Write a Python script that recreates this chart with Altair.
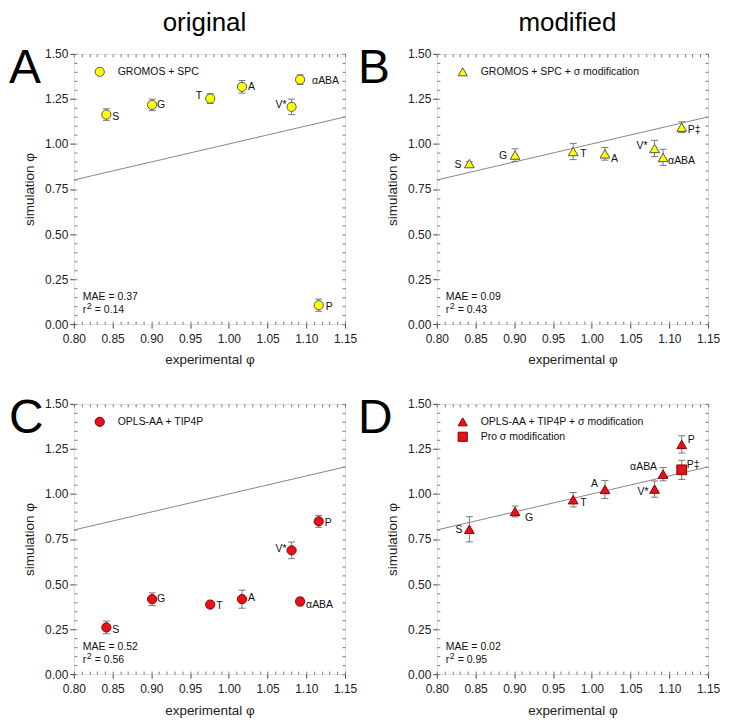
import altair as alt
import pandas as pd

FONT = "Liberation Sans"

# ---------------- data ----------------
residues = ["S", "G", "T", "A", "V*", "αABA", "P"]
exp_phi = [0.842, 0.901, 0.976, 1.017, 1.081, 1.092, 1.116]

sim_A = [1.163, 1.217, 1.252, 1.317, 1.206, 1.357, 0.105]
err_A = [0.032, 0.032, 0.027, 0.035, 0.043, 0.027, 0.034]
sim_B = [0.891, 0.938, 0.958, 0.945, 0.975, 0.925, 1.093]
err_B = [0.010, 0.035, 0.045, 0.035, 0.045, 0.045, 0.030]
sim_C = [0.259, 0.416, 0.386, 0.416, 0.687, 0.403, 0.848]
err_C = [0.035, 0.035, 0.010, 0.050, 0.046, 0.024, 0.033]
sim_D = [0.804, 0.903, 0.968, 1.025, 1.027, 1.110, 1.275]
err_D = [0.070, 0.030, 0.040, 0.050, 0.045, 0.037, 0.048]

labels_A = ["S", "G", "T", "A", "V*", "αABA", "P"]
labels_B = ["S", "G", "T", "A", "V*", "αABA", "P‡"]
labels_C = ["S", "G", "T", "A", "V*", "αABA", "P"]
labels_D = ["S", "G", "T", "A", "V*", "αABA", "P"]

pro_exp = [1.116]
pro_sim = [1.134]
pro_err = [0.053]
pro_label = ["P‡"]

identity = [0.80, 1.15]
x_major = [0.80, 0.85, 0.90, 0.95, 1.00, 1.05, 1.10, 1.15]
y_major = [0.00, 0.25, 0.50, 0.75, 1.00, 1.25, 1.50]
x_minor = [round(0.80 + 0.01 * i, 2) for i in range(36)]
y_minor = [round(0.05 * i, 2) for i in range(31)]

mae_vals = [0.37, 0.09, 0.52, 0.02]
r2_vals = [0.14, 0.43, 0.56, 0.95]
legend_A = ["GROMOS + SPC"]
legend_B = ["GROMOS + SPC + σ modification"]
legend_C = ["OPLS-AA + TIP4P"]
legend_D = ["OPLS-AA + TIP4P + σ modification", "Pro σ modification"]
panel_letters = ["A", "B", "C", "D"]
column_titles = ["original", "modified"]

# ---------------- styles ----------------
W, H = 272, 271
YELLOW, YSTROKE = "#ffff00", "#555555"
RED, RSTROKE = "#e8101a", "#8a0000"

style_A = dict(align=["left", "left", "right", "left", "right", "left", "left"],
               dx=[6, 5, -8, 6, -5, 12, 7], dy=[2, 0, -3, 0, -2, 1, 2])
style_B = dict(align=["right", "right", "left", "left", "right", "left", "left"],
               dx=[-8, -8, 7, 6, -7, 5, 6], dy=[1, 1, 2, 5, -2, 4, 3])
style_C = dict(align=["left", "left", "left", "left", "right", "left", "left"],
               dx=[6, 5, 6, 6, -5, 6, 6], dy=[3, 0, 1, -1, -1, 3, 2])
style_D = dict(align=["right", "left", "left", "right", "right", "right", "left"],
               dx=[-7, 10, 7, -7, -6, -6, 6], dy=[1, 7, 3, -5, 3, -7, -4])

xs = alt.Scale(domain=[0.80, 1.15], nice=False, zero=False)
ys = alt.Scale(domain=[0.0, 1.5], nice=False, zero=False)

x_main = alt.Axis(values=x_major, format=".2f", title="experimental φ", orient="bottom",
                  tickSize=4, tickColor="#444", domain=False, grid=False, labelFlush=False,
                  labelFont=FONT, labelFontSize=12, labelColor="#222", labelPadding=5,
                  titleFont=FONT, titleFontSize=13.5, titleFontWeight="normal",
                  titleColor="#222", titlePadding=9)
y_main = alt.Axis(values=y_major, format=".2f", title="simulation φ", orient="left",
                  tickSize=4, tickColor="#444", domain=False, grid=False, labelFlush=False,
                  labelFont=FONT, labelFontSize=12, labelColor="#222", labelPadding=2,
                  titleFont=FONT, titleFontSize=13.5, titleFontWeight="normal",
                  titleColor="#222", titlePadding=8)


def inner_axis(orient, offset, values):
    return alt.Axis(orient=orient, offset=offset, values=values, labels=False,
                    domain=False, grid=False, ticks=True, tickSize=3,
                    tickColor="#555", tickWidth=0.8, title=None)


def panel(sim, err, labels, style, shape, fill, stroke, legend, mae, r2, letter,
          letter_x, coltitle=None, pro=None):
    df = pd.DataFrame({
        "idx": list(range(len(sim))),
        "exp": exp_phi,
        "sim": sim,
        "lo": [s - e for s, e in zip(sim, err)],
        "hi": [s + e for s, e in zip(sim, err)],
        "lab": labels,
    })
    base = alt.Chart(df)
    line = alt.Chart(pd.DataFrame({"exp": identity, "sim": identity})).mark_line(
        color="#888888", strokeWidth=1).encode(
        x=alt.X("exp:Q", scale=xs, axis=x_main),
        y=alt.Y("sim:Q", scale=ys, axis=y_main))
    rules = base.mark_rule(color="#777777", strokeWidth=1).encode(
        x=alt.X("exp:Q", scale=xs, axis=inner_axis("top", -H, x_minor)),
        y=alt.Y("lo:Q", scale=ys, axis=inner_axis("right", -W, y_minor)),
        y2="hi:Q")
    cap_lo = base.mark_tick(orient="horizontal", size=7, thickness=1, color="#777777",
                            opacity=1).encode(
        x=alt.X("exp:Q", scale=xs, axis=inner_axis("bottom", -H, x_minor)),
        y=alt.Y("lo:Q", scale=ys, axis=inner_axis("left", -W, y_minor)))
    cap_hi = base.mark_tick(orient="horizontal", size=7, thickness=1, color="#777777",
                            opacity=1).encode(
        x=alt.X("exp:Q", scale=xs, axis=None),
        y=alt.Y("hi:Q", scale=ys, axis=None))
    size = 85 if shape == "circle" else 95
    pts = base.mark_point(shape=shape, filled=True, fill=fill, stroke=stroke,
                          strokeWidth=1, size=size, opacity=1).encode(
        x=alt.X("exp:Q", scale=xs, axis=None),
        y=alt.Y("sim:Q", scale=ys, axis=None))
    layers = [line, rules, cap_lo, cap_hi]

    if pro is not None:
        pdf = pd.DataFrame({"exp": pro[0], "sim": pro[1],
                            "lo": [s - e for s, e in zip(pro[1], pro[2])],
                            "hi": [s + e for s, e in zip(pro[1], pro[2])],
                            "lab": pro[3]})
        pb = alt.Chart(pdf)
        layers += [
            pb.mark_rule(color="#777777", strokeWidth=1).encode(
                x=alt.X("exp:Q", scale=xs, axis=None),
                y=alt.Y("lo:Q", scale=ys, axis=None), y2="hi:Q"),
            pb.mark_tick(orient="horizontal", size=7, thickness=1, color="#777777",
                         opacity=1).encode(
                x=alt.X("exp:Q", scale=xs, axis=None),
                y=alt.Y("lo:Q", scale=ys, axis=None)),
            pb.mark_tick(orient="horizontal", size=7, thickness=1, color="#777777",
                         opacity=1).encode(
                x=alt.X("exp:Q", scale=xs, axis=None),
                y=alt.Y("hi:Q", scale=ys, axis=None)),
            pb.mark_point(shape="square", filled=True, fill=fill, stroke=stroke,
                          strokeWidth=1, size=95, opacity=1).encode(
                x=alt.X("exp:Q", scale=xs, axis=None),
                y=alt.Y("sim:Q", scale=ys, axis=None)),
            pb.mark_text(align="left", dx=5, dy=-5, font=FONT, fontSize=10.5,
                         color="#111").encode(
                x=alt.X("exp:Q", scale=xs, axis=None),
                y=alt.Y("sim:Q", scale=ys, axis=None), text="lab:N"),
        ]
    layers.append(pts)

    for i in range(len(sim)):
        layers.append(
            base.transform_filter(alt.FieldEqualPredicate(field="idx", equal=i))
            .mark_text(align=style["align"][i], dx=style["dx"][i], dy=style["dy"][i],
                       baseline="middle", font=FONT, fontSize=10.5, color="#111")
            .encode(x=alt.X("exp:Q", scale=xs, axis=None),
                    y=alt.Y("sim:Q", scale=ys, axis=None), text="lab:N"))

    # legend
    leg_shapes = [shape, "square"]
    for j, txt in enumerate(legend):
        yy = 18 + 15 * j
        one = alt.Chart(pd.DataFrame({"t": [txt]}))
        layers.append(one.mark_point(shape=leg_shapes[j], filled=True, fill=fill,
                                     stroke=stroke, strokeWidth=1,
                                     size=(85 if leg_shapes[j] == "circle" else 85),
                                     opacity=1)
                      .encode(x=alt.value(26), y=alt.value(yy)))
        layers.append(one.mark_text(align="left", baseline="middle", font=FONT,
                                    fontSize=10.5, color="#111")
                      .encode(x=alt.value(44), y=alt.value(yy), text="t:N"))

    # MAE / r2
    ann = alt.Chart(pd.DataFrame({"m": [f"MAE = {mae:.2f}"], "r": [f"= {r2:.2f}"]}))
    layers.append(ann.mark_text(align="left", baseline="middle", font=FONT, fontSize=10.5,
                                color="#111").encode(x=alt.value(9), y=alt.value(H - 27),
                                                     text="m:N"))
    layers.append(ann.mark_text(align="left", baseline="middle", font=FONT, fontSize=10.5,
                                color="#111").encode(x=alt.value(9), y=alt.value(H - 14),
                                                     text=alt.value("r")))
    layers.append(ann.mark_text(align="left", baseline="middle", font=FONT, fontSize=9,
                                color="#111").encode(x=alt.value(13), y=alt.value(H - 18),
                                                     text=alt.value("2")))
    layers.append(ann.mark_text(align="left", baseline="middle", font=FONT, fontSize=10.5,
                                color="#111").encode(x=alt.value(21), y=alt.value(H - 14),
                                                     text="r:N"))
    # panel letter
    layers.append(alt.Chart(pd.DataFrame({"t": [letter]})).mark_text(
        align="left", baseline="alphabetic", font=FONT, fontSize=48, color="#000")
        .encode(x=alt.value(letter_x), y=alt.value(29), text="t:N"))
    if coltitle is not None:
        layers.append(alt.Chart(pd.DataFrame({"t": [coltitle]})).mark_text(
            align="center", baseline="alphabetic", font=FONT, fontSize=26, color="#000")
            .encode(x=alt.value(131), y=alt.value(-23), text="t:N"))

    return alt.layer(*layers).resolve_axis(x="independent", y="independent").properties(
        width=W, height=H)


pA = panel(sim_A, err_A, labels_A, style_A, "circle", YELLOW, YSTROKE, legend_A,
           mae_vals[0], r2_vals[0], panel_letters[0], -65, column_titles[0])
pB = panel(sim_B, err_B, labels_B, style_B, "triangle-up", YELLOW, YSTROKE, legend_B,
           mae_vals[1], r2_vals[1], panel_letters[1], -79, column_titles[1])
pC = panel(sim_C, err_C, labels_C, style_C, "circle", RED, RSTROKE, legend_C,
           mae_vals[2], r2_vals[2], panel_letters[2], -65)
pD = panel(sim_D, err_D, labels_D, style_D, "triangle-up", RED, RSTROKE, legend_D,
           mae_vals[3], r2_vals[3], panel_letters[3], -79,
           pro=(pro_exp, pro_sim, pro_err, pro_label))

chart = alt.concat(pA, pB, pC, pD, columns=2, spacing={"row": 80, "column": 92},
                   bounds="flush", padding=0).configure_view(
    stroke="#666666", strokeWidth=1).configure(font=FONT, background="white")

chart.save("out.html", embed_options={"renderer": "svg", "actions": False})
